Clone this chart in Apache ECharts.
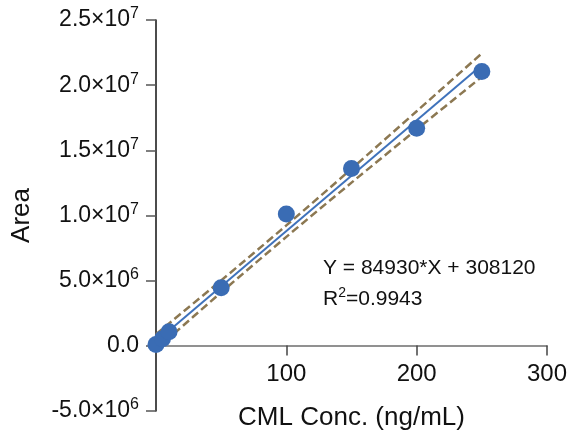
<!DOCTYPE html>
<html>
<head>
<meta charset="utf-8">
<script src="https://cdn.jsdelivr.net/npm/echarts@6/dist/echarts.min.js"></script>
<style>
	html, body { margin: 0; padding: 0; background: #fff; }
	#chart { width: 571px; height: 439px; }
</style>
</head>
<body>
<div id="chart"></div>
<script>
// measured points (x: ng/mL, y: area)
const concList = [0, 5, 10, 50, 100, 150, 200, 250]
const areaList = [0.1e6, 0.55e6, 1.08e6, 4.45e6, 10.12e6, 13.6e6, 16.7e6, 21.05e6]

// linear fit, read at both ends
const fitX = [0, 250]
const fitY = [0.31e6, 21.54e6]

// confidence bands
const bandX = [0, 50, 100, 150, 200, 250]
const bandUpper = [0.9e6, 5.02e6, 9.24e6, 13.58e6, 18.0e6, 22.44e6]
const bandLower = [-0.28e6, 4.1e6, 8.36e6, 12.52e6, 16.6e6, 20.64e6]

const yTicks = [-5e6, 0, 5e6, 1e7, 1.5e7, 2e7, 2.5e7]
const xTicks = [0, 100, 200, 300]

const FONT = "'Liberation Sans', Arial, sans-serif"

const pairs = (xs, ys) => xs.map((x, i) => [x, ys[i]])

// 2.5e7 -> 2.5×10^7
const sciLabel = (v) => {
	if (v == 0) return '{m|0.0}'
	const exp = Math.floor(Math.log10(Math.abs(v)))
	const mant = (v / Math.pow(10, exp)).toFixed(1)
	return '{m|' + mant + '×10}{s|' + exp + '}'
}

const chart = echarts.init(document.getElementById('chart'))

const option = {
	animation: false,
	backgroundColor: '#fff',
	textStyle: { fontFamily: FONT },
	grid: { left: 156, right: 24, top: 20, bottom: 28, containLabel: false, outerBoundsMode: 'none' },
	xAxis: {
		type: 'value',
		min: xTicks[0],
		max: xTicks[xTicks.length - 1],
		interval: 100,
		// x axis sits on y = 0 (5e6 step = 65.2px above the bottom)
		offset: -65.5,
		name: 'CML Conc. (ng/mL)',
		nameLocation: 'middle',
		nameGap: 59,
		nameMoveOverlap: false,
		nameTextStyle: { fontSize: 26, color: '#111', fontFamily: FONT },
		splitLine: { show: false },
		axisLine: { onZero: false, lineStyle: { color: '#6e6e6e', width: 1.5 } },
		axisTick: { length: 10, lineStyle: { color: '#444', width: 1.5 } },
		axisLabel: {
			showMinLabel: false,
			margin: 17,
			fontSize: 24,
			color: '#111',
			fontFamily: FONT,
		},
	},
	yAxis: {
		type: 'value',
		min: yTicks[0],
		max: yTicks[yTicks.length - 1],
		interval: 5e6,
		name: 'Area',
		nameLocation: 'middle',
		nameGap: 121,
		nameMoveOverlap: false,
		nameRotate: 90,
		nameTextStyle: { fontSize: 26, color: '#111', fontFamily: FONT },
		splitLine: { show: false },
		axisLine: { onZero: false, lineStyle: { color: '#111', width: 1.5 } },
		axisTick: { length: 10, lineStyle: { color: '#555', width: 1.5 } },
		axisLabel: {
			margin: 17,
			formatter: sciLabel,
			rich: {
				m: { fontSize: 23, color: '#111', fontFamily: FONT },
				s: { fontSize: 16, color: '#111', fontFamily: FONT, padding: [0, 0, 12, 0] },
			},
		},
	},
	graphic: [
		{
			type: 'text',
			left: 323,
			top: 258,
			style: {
				text: 'Y = 84930*X + 308120',
				font: '21px ' + FONT,
				fill: '#111',
			},
		},
		{
			type: 'text',
			left: 323,
			top: 286,
			style: {
				text: '{m|R}{s|2}{m|=0.9943}',
				rich: {
					m: { fontSize: 21, fill: '#111', fontFamily: FONT },
					s: { fontSize: 14, fill: '#111', fontFamily: FONT, padding: [0, 0, 12, 0] },
				},
			},
		},
	],
	series: [
		{
			name: 'upper',
			type: 'line',
			data: pairs(bandX, bandUpper),
			smooth: 0.3,
			showSymbol: false,
			lineStyle: { color: '#8c7852', width: 2.5, type: [8, 4] },
			z: 2,
		},
		{
			name: 'lower',
			type: 'line',
			data: pairs(bandX, bandLower),
			smooth: 0.3,
			showSymbol: false,
			lineStyle: { color: '#8c7852', width: 2.5, type: [8, 4] },
			z: 2,
		},
		{
			name: 'fit',
			type: 'line',
			data: pairs(fitX, fitY),
			showSymbol: false,
			lineStyle: { color: '#3f72bb', width: 2 },
			z: 3,
		},
		{
			name: 'points',
			type: 'scatter',
			data: pairs(concList, areaList),
			symbolSize: 17,
			itemStyle: { color: '#3a6cb4', opacity: 1 },
			z: 4,
		},
	],
}

chart.setOption(option)
</script>
</body>
</html>
